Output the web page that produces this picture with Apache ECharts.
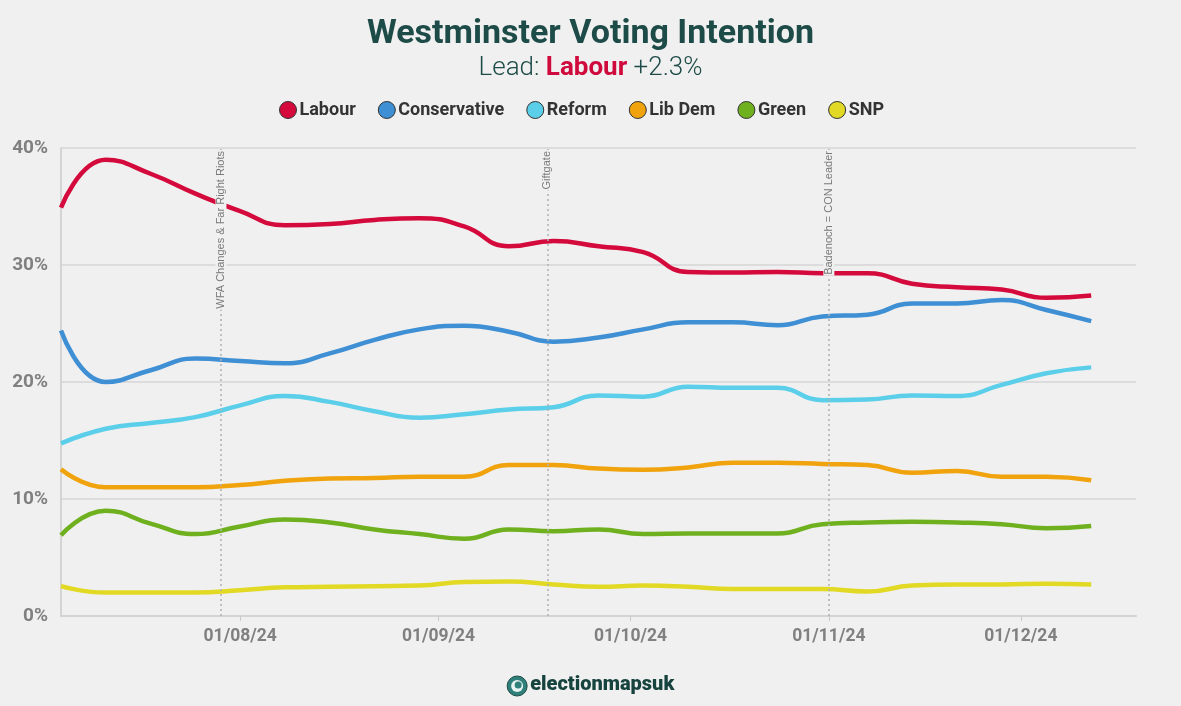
<!DOCTYPE html>
<html>
<head>
<meta charset="utf-8">
<script src="https://cdn.jsdelivr.net/npm/echarts@6/dist/echarts.min.js"></script>
<style>
  html, body { margin: 0; padding: 0; background: #f0f0f0; }
  #chart { width: 1181px; height: 706px; }
</style>
</head>
<body>
<div id="chart"></div>
<script>
// Weekly poll dates (x categories)
const dates = ['2024-07-04','2024-07-11','2024-07-18','2024-07-25','2024-08-01','2024-08-08','2024-08-15','2024-08-22',
  '2024-08-29','2024-09-05','2024-09-12','2024-09-19','2024-09-26','2024-10-03','2024-10-10','2024-10-17',
  '2024-10-24','2024-10-31','2024-11-07','2024-11-14','2024-11-21','2024-11-28','2024-12-05','2024-12-12'];

const labour       = [34.9, 39.0, 37.8, 36.1, 34.6, 33.4, 33.5, 33.85, 34.0, 33.3, 31.6, 32.05, 31.6, 31.1, 29.4, 29.35, 29.4, 29.3, 29.3, 28.4, 28.1, 27.9, 27.2, 27.4];
const conservative = [24.4, 20.0, 21.0, 22.0, 21.8, 21.6, 22.45, 23.6, 24.5, 24.8, 24.3, 23.45, 23.8, 24.5, 25.1, 25.1, 24.85, 25.6, 25.75, 26.7, 26.7, 27.0, 26.15, 25.2];
const reform       = [14.75, 16.0, 16.5, 17.0, 18.0, 18.8, 18.3, 17.5, 16.95, 17.25, 17.65, 17.85, 18.85, 18.75, 19.6, 19.5, 19.5, 18.45, 18.5, 18.85, 18.8, 19.75, 20.75, 21.25];
const libDem       = [12.55, 11.0, 11.0, 11.0, 11.2, 11.55, 11.75, 11.8, 11.9, 11.9, 12.9, 12.9, 12.6, 12.5, 12.7, 13.1, 13.1, 13.0, 12.9, 12.25, 12.4, 11.9, 11.9, 11.6];
const green        = [6.9, 9.0, 7.9, 7.0, 7.65, 8.25, 8.0, 7.4, 7.0, 6.6, 7.4, 7.25, 7.4, 7.0, 7.05, 7.05, 7.05, 7.85, 8.0, 8.05, 8.0, 7.85, 7.5, 7.7];
const snp          = [2.55, 2.0, 2.0, 2.0, 2.2, 2.45, 2.5, 2.55, 2.6, 2.9, 2.95, 2.7, 2.5, 2.6, 2.5, 2.3, 2.3, 2.3, 2.1, 2.6, 2.7, 2.7, 2.75, 2.7];

const seriesNames = ['Labour', 'Conservative', 'Reform', 'Lib Dem', 'Green', 'SNP'];
const seriesColors = ['#d40a3c', '#3e8fd4', '#5bcfe9', '#f0a30c', '#6fb01f', '#e2d924'];
const seriesValues = [labour, conservative, reform, libDem, green, snp];

// Events (vertical markers)
const eventDates  = ['2024-07-29', '2024-09-18', '2024-11-01'];
const eventLabels = ['WFA Changes & Far Right Riots', 'Giftgate', 'Badenoch = CON Leader'];

// Axis range / ticks
const xMin = '2024-07-04';
const xMax = '2024-12-19';
const yTicks = [0, 10, 20, 30, 40];

const chart = echarts.init(document.getElementById('chart'), null, { renderer: 'canvas' });

function pad(n) { return (n < 10 ? '0' : '') + n; }

const series = seriesNames.map((name, i) => ({
  name: name,
  type: 'line',
  data: dates.map((d, j) => [d, seriesValues[i][j]]),
  smooth: 0.5,
  showSymbol: false,
  symbol: 'circle',
  lineStyle: { width: 4.5, color: seriesColors[i], cap: 'butt' },
  itemStyle: { color: seriesColors[i], borderColor: '#333', borderWidth: 1 },
  z: 3,
  silent: true
}));

series[0].markLine = {
  silent: true,
  symbol: 'none',
  z: 5,
  animation: false,
  lineStyle: { color: '#b0b0b0', type: [2, 3], width: 1.5 },
  label: {
    show: true,
    position: 'insideEnd',
    distance: 2,
    color: '#7a7a7a',
    fontFamily: 'Liberation Sans',
    fontSize: 11,
    backgroundColor: '#f0f0f0',
    padding: [0, 1]
  },
  data: eventDates.map((d, i) => ({ xAxis: d, label: { formatter: eventLabels[i] } }))
};

const option = {
  backgroundColor: '#f0f0f0',
  animation: false,
  title: [{
    text: 'Westminster Voting Intention',
    left: 'center',
    top: 12,
    textStyle: { fontFamily: 'Roboto', fontWeight: 'bold', fontSize: 34, color: '#1d4b47' }
  }, {
    text: '{a|Lead: }{b|Labour}{a| +2.3%}',
    left: 'center',
    top: 50,
    textStyle: {
      rich: {
        a: { fontFamily: 'Roboto', fontWeight: 300, fontSize: 26, color: '#1d4b47' },
        b: { fontFamily: 'Roboto', fontWeight: 'bold', fontSize: 26, color: '#cf0a3c' }
      }
    }
  }],
  legend: {
    top: 96,
    left: 274,
    icon: 'circle',
    itemWidth: 17,
    itemHeight: 17,
    itemGap: 22,
    data: seriesNames,
    itemStyle: { borderColor: '#333', borderWidth: 1 },
    textStyle: { fontFamily: 'Roboto', fontWeight: 'bold', fontSize: 18, color: '#333', padding: [0, 0, 0, -2] }
  },
  grid: { left: 61, right: 45, top: 148, bottom: 90, containLabel: false },
  xAxis: {
    type: 'time',
    min: xMin,
    max: xMax,
    minInterval: 28 * 86400000,
    maxInterval: 31 * 86400000,
    splitLine: { show: false },
    axisLine: { show: true, lineStyle: { color: '#d4d4d4', width: 2 } },
    axisTick: { show: true, length: 5, lineStyle: { color: '#c8c8c8', width: 1 } },
    axisLabel: {
      showMinLabel: false,
      showMaxLabel: false,
      margin: 12,
      fontFamily: 'Roboto',
      fontWeight: 'bold',
      fontSize: 17.5,
      color: '#808080',
      formatter: function (val) {
        const d = new Date(val);
        if (d.getDate() !== 1) return '';
        return pad(d.getDate()) + '/' + pad(d.getMonth() + 1) + '/' + String(d.getFullYear()).slice(2);
      }
    }
  },
  yAxis: {
    type: 'value',
    min: yTicks[0],
    max: yTicks[yTicks.length - 1],
    interval: 10,
    axisLine: { show: true, lineStyle: { color: '#d4d4d4', width: 2 } },
    axisTick: { show: false },
    splitLine: { show: true, lineStyle: { color: '#dcdcdc', width: 2 } },
    axisLabel: {
      margin: 13,
      fontFamily: 'Roboto',
      fontWeight: 'bold',
      fontSize: 19,
      color: '#808080',
      formatter: '{value}%'
    }
  },
  graphic: [{
    type: 'group',
    left: 'center',
    top: 675,
    children: [{
      type: 'circle',
      shape: { cx: 10, cy: 11, r: 10 },
      style: { fill: '#2f7f7a', stroke: '#1d4b47', lineWidth: 1 }
    }, {
      type: 'circle',
      shape: { cx: 10, cy: 11, r: 6 },
      style: { fill: '#e8f2f1' }
    }, {
      type: 'circle',
      shape: { cx: 11, cy: 10, r: 3.5 },
      style: { fill: '#2f7f7a' }
    }, {
      type: 'text',
      left: 23,
      top: 0,
      style: { text: 'electionmapsuk', fontFamily: 'Roboto', fontWeight: 900, fontSize: 20, fill: '#17433f' }
    }]
  }],
  series: series
};

chart.setOption(option);
</script>
</body>
</html>
